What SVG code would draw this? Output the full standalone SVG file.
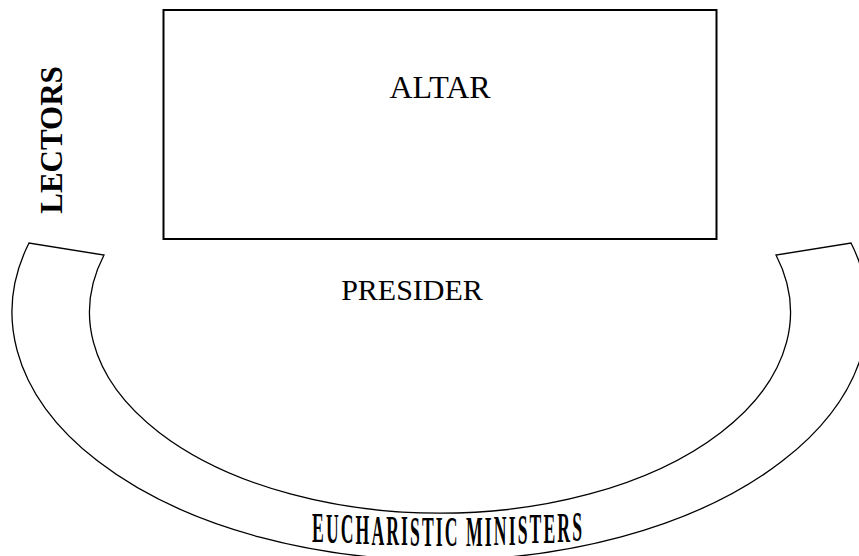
<svg xmlns="http://www.w3.org/2000/svg" width="859" height="556" viewBox="0 0 859 556">
<style>
.ln{fill:none;stroke:#000;stroke-width:1.3}
.box{fill:#fff;stroke:#000;stroke-width:2}
.t{font-family:"Liberation Serif","Times New Roman",serif;fill:#000}
</style>
<rect width="859" height="556" fill="#fff"/>
<g id="arc">
<path class="ln" d="M 29 243 A 428 248 0 1 0 851 243 L 776 255 A 350.5 201 0 1 1 104 255 Z"/>
<text class="t" font-weight="bold" font-size="42" letter-spacing="5" transform="scale(0.42 1)" x="742.9" y="542 542.8 543.4 544 544.6 545 545.4 545.6 545.8 546 546 546 545.8 545.6 545.2 544.8 544.2 543.4 542.6 541.6 540.6">EUCHARISTIC MINISTERS</text>
</g>
<g id="altar">
<rect class="box" x="163.5" y="10" width="553" height="229"/>
<text class="t" x="440" y="98" font-size="32" text-anchor="middle">ALTAR</text>
</g>
<g id="presider">
<text class="t" x="412" y="300" font-size="30" text-anchor="middle">PRESIDER</text>
</g>
<g id="lectors">
<text class="t" font-weight="bold" font-size="31" text-anchor="middle" transform="translate(62 140) rotate(-90)">LECTORS</text>
</g>
</svg>
